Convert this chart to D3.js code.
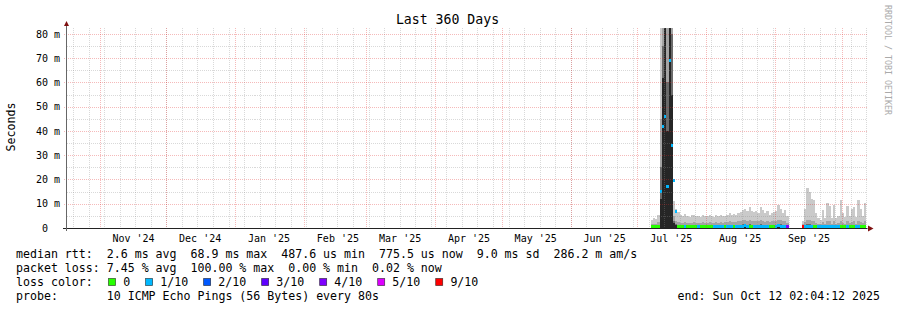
<!DOCTYPE html>
<html>
<head>
<meta charset="utf-8">
<script src="https://cdn.jsdelivr.net/npm/d3@7"></script>
<style>
body { margin: 0; background: #fff; }
text { font-family: "DejaVu Sans Mono", monospace; white-space: pre; fill: #000; }
</style>
</head>
<body>
<div id="chart"></div>
<script>
// ---- data (ms), one value per day starting 2025-07-07, null = no data
var title = "Last 360 Days";
var yTitle = "Seconds";
var endTime = new Date(Date.UTC(2025, 9, 12, 2, 4, 12));
var firstDay = new Date(Date.UTC(2025, 6, 7));
var yTicks = [0, 10, 20, 30, 40, 50, 60, 70, 80];

// outer smoke band top (slowest ping)
var pingMax = [3.5, 4.2, 3.8, 5.5,
  95, 95, 95, 95, 95, 95, 11,
  8, 6.5, 5.5, 5, 5.6, 5, 4.6, 5.2, 5.5, 4.8,
  5, 4.5, 5.2, 5, 4.8, 5.5, 5, 4.6, 5.3, 5,
  5.5, 4.8, 5, 5.5, 6, 5.2, 5.8, 5.5, 6, 6.5,
  7.5, 8, 7, 8.5, 7, 6.5, 7, 6, 8.5, 7.5,
  6, 7, 5.5, 6, 6.5, 7, 9.5, 8, 6, 7.5, 5,
  null, null, null, null, null, null,
  3, 8, 16.5, 15, 12, 11.5, 6, 4, 3.5, 7.5,
  4, 10.5, 9, 4, 9.5, 4, 5, 11.5, 6, 4.5,
  9, 5, 8, 8.5, 4.5, 11.5, 8, 5, 10.5];

// middle smoke band top
var pingUpper = [1.5, 1.8, 1.6, 2.5,
  45, 95, 95, 95, 95, 95, 5,
  3, 2.5, 2.2, 2, 2.3, 2, 2, 2.2, 2.3, 2,
  2.2, 2, 2.3, 2.1, 2, 2.4, 2.2, 2, 2.3, 2.2,
  2.5, 2.2, 2.3, 2.5, 2.7, 2.4, 2.6, 2.5, 2.8, 3,
  3.2, 3.5, 3, 3.4, 3, 2.8, 3, 2.7, 3.3, 3,
  2.6, 3, 2.5, 2.7, 2.8, 3, 3.5, 3.2, 2.7, 3, 2.2,
  null, null, null, null, null, null,
  1.5, 2.5, 3.5, 3.2, 3, 2.8, 2, 1.8, 1.6, 2.5,
  1.8, 3, 2.8, 1.8, 2.8, 1.8, 2, 3, 2.2, 1.8,
  2.8, 2, 2.5, 2.7, 1.8, 3, 2.5, 2, 2.8];

// inner (grey) band top
var pingMid = [1, 1, 1, 1.2,
  25, 75, 95, 60, 95, 80, 3,
  1.5, 1.2, 1.1, 1, 1.1, 1, 1, 1.1, 1.1, 1,
  1.1, 1, 1.1, 1, 1, 1.1, 1.1, 1, 1.1, 1.1,
  1.2, 1.1, 1.1, 1.2, 1.3, 1.1, 1.2, 1.2, 1.3, 1.4,
  1.5, 1.6, 1.4, 1.5, 1.4, 1.3, 1.4, 1.3, 1.5, 1.4,
  1.3, 1.4, 1.2, 1.3, 1.3, 1.4, 1.6, 1.5, 1.3, 1.4, 1.1,
  null, null, null, null, null, null,
  1, 1.3, 1.6, 1.5, 1.4, 1.4, 1.1, 1, 1, 1.3,
  1, 1.4, 1.4, 1, 1.4, 1, 1.1, 1.4, 1.1, 1,
  1.4, 1.1, 1.2, 1.3, 1, 1.4, 1.2, 1.1, 1.4];

// dark core band top
var pingCore = [0.8, 0.8, 0.8, 1,
  12, 62, 85, 40, 90, 55, 2,
  1.2, 1, 1, 0.9, 1, 0.9, 0.9, 1, 1, 0.9,
  1, 0.9, 1, 0.9, 0.9, 1, 1, 0.9, 1, 1,
  1.1, 1, 1, 1.1, 1.2, 1, 1.1, 1.1, 1.2, 1.2,
  1.3, 1.4, 1.2, 1.3, 1.2, 1.1, 1.2, 1.1, 1.3, 1.2,
  1.1, 1.2, 1, 1.1, 1.1, 1.2, 1.4, 1.3, 1.1, 1.2, 1,
  null, null, null, null, null, null,
  0.9, 1.1, 1.4, 1.3, 1.2, 1.2, 1, 0.9, 0.9, 1.1,
  0.9, 1.2, 1.2, 0.9, 1.2, 0.9, 1, 1.2, 1, 0.9,
  1.2, 1, 1.1, 1.1, 0.9, 1.2, 1.1, 1, 1.2];

var medianRtt = [0.7, 0.7, 0.8, 0.8,
  15, 42, 46, 17, 68.9, 34, 19.5,
  6.7, 0.7, 0.6, 0.6, 0.7, 0.6, 0.6, 0.7, 0.7, 0.6,
  0.7, 0.6, 0.7, 0.6, 0.6, 0.7, 0.7, 0.6, 0.7, 0.7,
  0.7, 0.6, 0.7, 0.7, 0.8, 0.7, 0.7, 0.7, 0.8, 0.8,
  0.8, 0.9, 0.8, 0.8, 0.8, 0.7, 0.8, 0.7, 0.8, 0.8,
  0.7, 0.8, 0.7, 0.7, 0.7, 0.8, 0.9, 0.8, 0.7, 0.8, 0.7,
  null, null, null, null, null, null,
  0.7, 0.7, 0.8, 0.8, 0.8, 0.7, 0.7, 0.6, 0.6, 0.7,
  0.6, 0.7, 0.7, 0.6, 0.7, 0.6, 0.6, 0.7, 0.7, 0.6,
  0.7, 0.6, 0.7, 0.7, 0.6, 0.7, 0.7, 0.6, 0.7];

// lost pings out of 10
var lossCount = [0, 0, 0, 0,
  1, 1, 1, 1, 1, 1, 1,
  1, 0, 0, 0, 1, 0, 0, 0, 0, 0,
  1, 0, 0, 0, 0, 0, 0, 1, 1, 1,
  1, 1, 0, 1, 1, 1, 0, 1, 1, 1,
  1, 1, 1, 0, 0, 1, 1, 1, 1, 1,
  1, 1, 0, 0, 0, 1, 1, 1, 1, 1, 4,
  null, null, null, null, null, null,
  9, 1, 1, 1, 1, 0, 0, 1, 1, 1,
  1, 1, 1, 1, 1, 1, 1, 0, 0, 0,
  1, 0, 0, 0, 1, 1, 0, 0, 0];

var lossSteps = [0, 1, 2, 3, 4, 5, 9];
var lossLabels = ["0", "1/10", "2/10", "3/10", "4/10", "5/10", "9/10"];
var lossColors = ["#26ff00", "#00b8ff", "#0059ff", "#5e00ff", "#7e00ff", "#dd00ff", "#ff0000"];

var statLines = [
  "median rtt:  2.6 ms avg  68.9 ms max  487.6 us min  775.5 us now  9.0 ms sd  286.2 m am/s",
  "packet loss: 7.45 % avg  100.00 % max  0.00 % min  0.02 % now",
  "loss color:  ",
  "probe:       10 ICMP Echo Pings (56 Bytes) every 80s"
];
var endLabel = "end: Sun Oct 12 02:04:12 2025";
var watermark = "RRDTOOL / TOBI OETIKER";

// ---- layout
var W = 897, H = 310;
var left = 66.5, plotW = 800, bottom = 228, plotH = 200;
var yMax = 82.47;
var startTime = new Date(+endTime - 360 * 864e5);

var x = d3.scaleUtc().domain([startTime, endTime]).range([left, left + plotW]);
var y = d3.scaleLinear().domain([0, yMax]).range([bottom, bottom - plotH]);

function dayDate(i) { return d3.utcDay.offset(firstDay, i); }
function lossColor(n) {
  var c = lossColors[0];
  lossSteps.forEach(function(s, k) { if (n >= s) c = lossColors[k]; });
  return c;
}

var svg = d3.select("#chart").append("svg")
  .attr("width", W).attr("height", H);

svg.append("rect").attr("width", W).attr("height", H).attr("fill", "#fff");

// ---- smoke
var days = d3.range(pingMax.length).filter(function(i) { return pingMax[i] != null; });

function layer(vals, color) {
  svg.append("g").attr("shape-rendering", "crispEdges")
    .selectAll("rect").data(days).join("rect")
    .attr("x", function(i) { return Math.round(x(dayDate(i))); })
    .attr("width", function(i) { return Math.round(x(dayDate(i + 1))) - Math.round(x(dayDate(i))); })
    .attr("y", function(i) { return y(Math.min(vals[i], yMax)); })
    .attr("height", function(i) { return bottom - y(Math.min(vals[i], yMax)); })
    .attr("fill", color);
}
layer(pingMax, "#cacaca");
layer(pingUpper, "#a4a4a4");
layer(pingMid, "#6a6a6a");
layer(pingCore, "#262626");

// median band coloured by loss
svg.append("g").attr("shape-rendering", "crispEdges")
  .selectAll("rect").data(days).join("rect")
  .attr("x", function(i) { return Math.round(x(dayDate(i))); })
  .attr("width", function(i) { return Math.round(x(dayDate(i + 1))) - Math.round(x(dayDate(i))); })
  .attr("y", function(i) { return Math.round(y(medianRtt[i]) - 1.5); })
  .attr("height", 3)
  .attr("fill", function(i) { return lossColor(lossCount[i]); });

// ---- grid (drawn over data like rrdtool)
var grid = svg.append("g").attr("shape-rendering", "crispEdges");
var minorCol = "rgba(140,140,140,0.33)", majorCol = "rgba(225,40,40,0.32)";

d3.range(5, yMax, 10).forEach(function(v) {
  grid.append("line").attr("x1", left).attr("x2", left + plotW)
    .attr("y1", Math.round(y(v)) + 0.5).attr("y2", Math.round(y(v)) + 0.5)
    .attr("stroke", minorCol).attr("stroke-dasharray", "1,1");
});
d3.utcSunday.range(startTime, endTime).forEach(function(t) {
  var px = Math.round(x(t)) + 0.5;
  grid.append("line").attr("x1", px).attr("x2", px)
    .attr("y1", bottom - plotH).attr("y2", bottom)
    .attr("stroke", minorCol).attr("stroke-dasharray", "1,1");
});
yTicks.filter(function(v) { return v > 0; }).forEach(function(v) {
  grid.append("line").attr("x1", left - 3).attr("x2", left + plotW)
    .attr("y1", Math.round(y(v)) + 0.5).attr("y2", Math.round(y(v)) + 0.5)
    .attr("stroke", majorCol).attr("stroke-dasharray", "1,1");
});
d3.utcMonth.range(startTime, endTime).forEach(function(t) {
  var px = Math.round(x(t)) + 0.5;
  grid.append("line").attr("x1", px).attr("x2", px)
    .attr("y1", bottom - plotH).attr("y2", bottom + 2)
    .attr("stroke", majorCol).attr("stroke-dasharray", "1,1");
});

// ---- axes
var yAxis = d3.axisLeft(y).tickValues(yTicks).tickSize(0).tickPadding(0)
  .tickFormat(function(v) { return v === 0 ? "0  " : v + " m"; });
var gy = svg.append("g").attr("transform", "translate(60,0)").call(yAxis);
gy.select(".domain").remove();
gy.selectAll("text").attr("x", 0).style("font-family", "DejaVu Sans Mono").style("font-size", "10px").attr("fill", "#000");

var labelTimes = d3.utcMonth.range(d3.utcMonth.offset(startTime, -1), endTime)
  .map(function(t) { return new Date(+t + 15 * 864e5); })
  .filter(function(t) { return t > startTime && t < endTime; });
var xAxis = d3.axisBottom(x).tickValues(labelTimes).tickSize(0).tickPadding(0)
  .tickFormat(d3.utcFormat("%b '%y"));
var gx = svg.append("g").attr("transform", "translate(0,234)").call(xAxis);
gx.select(".domain").remove();
gx.selectAll("text").attr("y", 0).attr("dy", "0.8em").style("font-family", "DejaVu Sans Mono").style("font-size", "10px").attr("fill", "#000");

svg.append("line").attr("x1", 63).attr("x2", left + plotW + 1)
  .attr("y1", bottom + 0.5).attr("y2", bottom + 0.5).attr("stroke", "#222");
svg.append("line").attr("x1", left).attr("x2", left)
  .attr("y1", bottom + 3).attr("y2", 24).attr("stroke", "#666");
svg.append("path").attr("d", "M64,26L69,26L66.5,21Z").attr("fill", "#7f1010");
svg.append("path").attr("d", "M868,225.5L868,231.5L873.5,228.5Z").attr("fill", "#7f1010");

// ---- titles
svg.append("text").attr("x", 447.5).attr("y", 23.5).attr("text-anchor", "middle")
  .style("font-size", "13.2px").text(title);
svg.append("text").attr("transform", "translate(15,127) rotate(-90)").attr("text-anchor", "middle")
  .style("font-size", "11.6px").text(yTitle);
svg.append("text").attr("transform", "translate(885,5) rotate(90)")
  .style("font-size", "8.3px").style("fill", "#aaa").text(watermark);

// ---- legend
var lineY = [258, 272, 286, 299.5];
statLines.forEach(function(s, k) {
  svg.append("text").attr("x", 16).attr("y", lineY[k]).style("font-size", "11.6px").text(s);
});
var cursor = 108.5;
lossLabels.forEach(function(lab, k) {
  svg.append("rect").attr("x", cursor).attr("y", 278.5).attr("width", 7).attr("height", 7)
    .attr("fill", lossColors[k]).attr("stroke", "rgba(0,0,0,0.6)").attr("stroke-width", 0.8);
  svg.append("text").attr("x", cursor + 14.7).attr("y", lineY[2]).style("font-size", "11.6px").text(lab);
  cursor = cursor + 14.7 + lab.length * 6.98 + 15.4;
});
svg.append("text").attr("x", 880).attr("y", lineY[3]).attr("text-anchor", "end")
  .style("font-size", "11.6px").text(endLabel);
</script>
</body>
</html>
